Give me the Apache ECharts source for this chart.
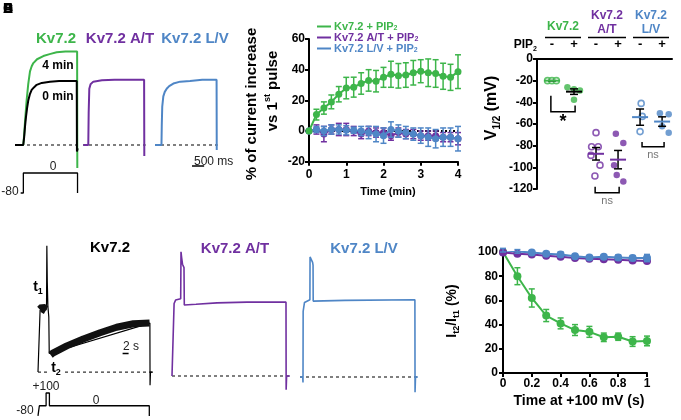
<!DOCTYPE html>
<html>
<head>
<meta charset="utf-8">
<title>Kv7.2 PIP2 figure</title>
<script src="https://cdn.jsdelivr.net/npm/echarts@6/dist/echarts.min.js"></script>
<style>
  html, body { margin: 0; padding: 0; background: #fff; }
  #chart { width: 681px; height: 420px; }
</style>
</head>
<body>
<div id="chart"></div>
<script>
const GREEN = '#3db54a';
const PURPLE = '#7030a0';
const BLUE = '#4f86c6';
const FONT = '"Liberation Sans", Arial, sans-serif';

// A: current traces, [time ms, current normalised to 0 min plateau]
const traceA0min = [[0,0],[262,0],[290,0.12],[320,0.3],[349,0.44],[385,0.58],[423,0.70],[470,0.79],[529,0.86],[600,0.9],[688,0.94],[850,0.97],[1111,0.99],[1400,1.0],[1700,1.0],[1960,1.0],[1966,-0.1],[1990,-0.05]];
const traceA4min = [[0,0],[262,0],[290,0.15],[320,0.38],[370,0.70],[420,0.95],[476,1.15],[530,1.23],[582,1.28],[700,1.34],[899,1.39],[1100,1.42],[1323,1.45],[1600,1.46],[1972,1.46],[1978,-0.36]];
const traceAat = [[10,0],[168,0],[180,0.5],[200,0.88],[240,0.95],[327,0.99],[600,1.01],[1000,1.02],[1500,1.02],[1940,1.02],[1946,-0.17]];
const traceAlv = [[0,0],[205,0],[215,0.3],[230,0.6],[264,0.76],[310,0.83],[371,0.88],[450,0.92],[582,0.96],[800,0.99],[1111,1.0],[1500,1.02],[1955,1.02],[1960,-0.08]];
const protocolA = [[180,-80],[265,-80],[265,0],[1985,0],[1985,-80]];
const scaleBarA = [[1175,-0.33],[1560,-0.33]]; // 500 ms

// B: % current increase vs 1st pulse
const timeB = [0,0.2,0.4,0.6,0.8,1,1.2,1.4,1.6,1.8,2,2.2,2.4,2.6,2.8,3,3.2,3.4,3.6,3.8,4];
const kv72B = [0,10.7,15,19,24,28,28.6,31,33,32.5,35,37,36,36.5,38,39,38,37.5,35.7,35,38.7];
const kv72BErr = [0,3.5,4,4.5,5,7,6.5,7,7,7,6.5,8.5,8,8,8,7.5,9,9,8.5,8.5,11];
const atB = [0,1,-2,1,1,1,0,-2,0,-1,-1,-3,-1,-2,-2,-3,-3,-3,-4,-4,-5];
const atBErr = [0,3,5,3,4,4,3,3,3,3,3,3,3,3,3,3,3,3,3,3,4];
const lvB = [0,1,0,1,1,0.5,0.5,0,-1,-2,-3,1,0,-1,-2,-3,-4,-5,-4,-4,-5];
const lvBErr = [0,2,3,3,3,3,2,3,4,5,5,5,4,4,4,5,6,6,6,6,8];
const namesB = ['Kv7.2 + PIP2', 'Kv7.2 A/T + PIP2', 'Kv7.2 L/V + PIP2'];

// C: V1/2 (mV), individual cells, jitter in group units
const signsC = ['-', '+', '-', '+', '-', '+'];
const cKv72Ctrl = [-20,-20,-20];          const cKv72CtrlJit = [-0.2,0,0.2];
const cKv72Pip = [-26,-28,-29,-37.5];     const cKv72PipJit = [-0.3,0,0.27,0];
const cAtCtrl = [-68,-81,-81,-89,-98,-108]; const cAtCtrlJit = [0,-0.2,0.1,-0.23,0.18,-0.05];
const cAtPip = [-69,-77.5,-98,-107,-113]; const cAtPipJit = [-0.1,0.24,-0.18,-0.06,0.24];
const cLvCtrl = [-41,-53,-67];            const cLvCtrlJit = [0.05,0.1,0];
const cLvPip = [-50,-51,-62,-68];         const cLvPipJit = [-0.1,0.3,0,0.3];
// brackets: [x1, x2, base, leftTop, rightTop, labelY]
const bracketsC = [[0.95,2.05,-48.6,-34,-43,-58],[2.96,4.05,-123.4,-118,-118,-131],[5.09,6.09,-81,-76.6,-76.6,-88.6]];
const bracketLabels = ['*', 'ns', 'ns'];

// D: long pulse traces, [time s, current]
const traceDkv72 = [[0,0],[0.6,0],[0.7,0.9],[2.7,0.9],[2.85,1.0],[2.95,1.83],[3.1,1.3],[3.3,0.95],[3.6,0.8],[3.75,0.27],[4.0,0.25],[37.3,0.71],[37.35,-0.19],[37.5,0],[38.3,0]];
const noiseDpre = [[0.75,0.9],[1.5,0.93],[2.7,0.9]];
const noiseDslow = [[4.2,0.25],[5.1,0.28],[9.6,0.38],[15.1,0.48],[20.7,0.57],[26.2,0.65],[31.8,0.70],[37.2,0.71]];
const protocolD = [[0,-80],[0.45,-80],[0.45,0],[2.7,0],[2.7,100],[3.8,100],[3.8,0],[37.1,0],[37.1,-80],[37.3,-80]];
const traceDat = [[0,0],[0.6,0],[0.7,1.05],[1.2,1.1],[2.9,1.12],[3.0,1.8],[3.2,1.72],[3.5,1.62],[4.0,1.57],[4.1,1.03],[8,1.04],[15,1.06],[25,1.07],[38,1.07],[38.05,-0.2],[38.2,0],[39.3,0]];
const traceDlv = [[0,0],[0.9,0],[1.0,-0.08],[1.05,0.95],[1.5,1.08],[3.3,1.12],[3.35,1.74],[4.2,1.66],[4.35,1.62],[4.4,1.10],[15,1.11],[38.3,1.12],[38.35,-0.22],[38.5,0],[39.3,0]];
const scaleBarD = [[28.2,0.27],[30.2,0.27]]; // 2 s

// E: It2/It1 (%)
const timeE = [0,0.1,0.2,0.3,0.4,0.5,0.6,0.7,0.8,0.9,1];
const kv72E = [100,80,62,47.5,41,35.5,34,29.5,30,26,26.5];
const kv72EErr = [0,7,7.5,5,4.5,4.5,4.5,3.5,3,4,4];
const atE = [99.5,98.5,98,97,96,95,94.5,94,93.5,93,92.5];
const atEErr = [1,1,1,1,1,1,1,1,1,1,1];
const lvE = [101.5,100.5,99.5,98.5,98,96.5,95.5,96,95.5,95,95];
const lvEErr = [1.5,1.5,1.5,1.5,2,1.5,1.5,1.5,2,2,3];

const zip = (xs, ys) => xs.map((x, i) => [x, ys[i]]);
const errRows = (xs, ys, es) => xs.map((x, i) => [x, ys[i] - es[i], ys[i] + es[i]]);
const jitter = (pos, vals, jit) => vals.map((v, i) => [pos + jit[i], v]);
const mean = a => a.reduce((s, v) => s + v, 0) / a.length;
const sem = a => {
  const m = mean(a);
  return Math.sqrt(a.reduce((s, v) => s + (v - m) * (v - m), 0) / (a.length - 1)) / Math.sqrt(a.length);
};

const groupsC = [cKv72Ctrl, cKv72Pip, cAtCtrl, cAtPip, cLvCtrl, cLvPip];
const meanRows = groupsC.map((g, i) => [i + 1, mean(g), sem(g)]);
const meanColors = [GREEN, '#000', PURPLE, PURPLE, BLUE, BLUE];

function errorBar(capHalf, width) {
  return function (params, api) {
    const x = api.value(0);
    const lo = api.coord([x, api.value(1)]);
    const hi = api.coord([x, api.value(2)]);
    const st = { stroke: api.visual('color'), lineWidth: width };
    return { type: 'group', children: [
      { type: 'line', shape: { x1: lo[0], y1: lo[1], x2: hi[0], y2: hi[1] }, style: st },
      { type: 'line', shape: { x1: lo[0] - capHalf, y1: lo[1], x2: lo[0] + capHalf, y2: lo[1] }, style: st },
      { type: 'line', shape: { x1: hi[0] - capHalf, y1: hi[1], x2: hi[0] + capHalf, y2: hi[1] }, style: st }
    ] };
  };
}

function meanBar(params, api) {
  const x = api.value(0), m = api.value(1), s = api.value(2);
  const c = api.coord([x, m]);
  const lo = api.coord([x, m - s]);
  const hi = api.coord([x, m + s]);
  const eb = { stroke: '#000', lineWidth: 1.5 };
  return { type: 'group', children: [
    { type: 'line', shape: { x1: lo[0], y1: lo[1], x2: hi[0], y2: hi[1] }, style: eb },
    { type: 'line', shape: { x1: lo[0] - 4, y1: lo[1], x2: lo[0] + 4, y2: lo[1] }, style: eb },
    { type: 'line', shape: { x1: hi[0] - 4, y1: hi[1], x2: hi[0] + 4, y2: hi[1] }, style: eb },
    { type: 'line', shape: { x1: c[0] - 8, y1: c[1], x2: c[0] + 8, y2: c[1] },
      style: { stroke: meanColors[params.dataIndex], lineWidth: 2 } }
  ] };
}

function bracket(params, api) {
  const a = api.coord([api.value(0), api.value(2)]);
  const b = api.coord([api.value(1), api.value(2)]);
  const la = api.coord([api.value(0), api.value(3)]);
  const rb = api.coord([api.value(1), api.value(4)]);
  const t = api.coord([(api.value(0) + api.value(1)) / 2, api.value(5)]);
  const lbl = bracketLabels[params.dataIndex];
  const star = lbl === '*';
  return { type: 'group', children: [
    { type: 'polyline', shape: { points: [la, a, b, rb] }, style: { stroke: '#000', lineWidth: 1.5, fill: null } },
    { type: 'text', x: t[0], y: t[1], style: { text: lbl, fill: star ? '#000' : '#777',
      fontSize: star ? 18 : 11, fontWeight: star ? 'bold' : 'normal', fontFamily: FONT,
      align: 'center', verticalAlign: 'middle' } }
  ] };
}

function richFor(size) {
  return {
    sub: { fontSize: Math.round(size * 0.62), fontWeight: 'bold', fontFamily: FONT, verticalAlign: 'bottom', lineHeight: size * 1.3 },
    sup: { fontSize: Math.round(size * 0.62), fontWeight: 'bold', fontFamily: FONT, verticalAlign: 'top', lineHeight: size * 1.3 }
  };
}

function label(x, y, text, size, color, opts) {
  opts = opts || {};
  return {
    type: 'text', x: x, y: y, rotation: opts.rotation || 0, silent: true,
    style: {
      text: text, fill: color || '#000', fontSize: size, lineHeight: size * 1.3,
      fontWeight: opts.weight || 'bold', fontFamily: FONT,
      align: opts.align || 'center', verticalAlign: 'middle', rich: richFor(size)
    }
  };
}

const axisBase = (extra) => Object.assign({
  axisLine: { show: true, onZero: false, lineStyle: { color: '#000', width: 2 } },
  axisTick: { show: true, length: 4, lineStyle: { color: '#000', width: 2 } },
  axisLabel: { color: '#000', fontSize: 12, fontWeight: 'bold', fontFamily: FONT, margin: 4 },
  splitLine: { show: false }
}, extra);

const hidden = (gridIndex, min, max) => ({ type: 'value', gridIndex, min, max, show: false });

function traceSeries(idx, data, color, width, extra) {
  return Object.assign({
    type: 'line', xAxisIndex: idx, yAxisIndex: idx, data: data, showSymbol: false,
    symbol: 'none', silent: true, lineStyle: { color: color, width: width }, z: 3
  }, extra);
}
const dashed = (idx, data) => traceSeries(idx, data, '#000', 1, { lineStyle: { color: '#000', width: 1, type: [3, 3] }, z: 2 });
const band = (idx, data, width) => traceSeries(idx, data, '#000', width, { lineStyle: { color: '#111', width: width, cap: 'butt', join: 'bevel' } });

const gridBase = { outerBoundsMode: 'none', containLabel: false };
const grids = [
  { left: 15, top: 42.6, width: 63, height: 128 },    // 0 A Kv7.2
  { left: 83, top: 42.6, width: 63, height: 128 },    // 1 A A/T
  { left: 155, top: 42.6, width: 63, height: 128 },   // 2 A L/V
  { left: 15, top: 170.5, width: 63, height: 25 },    // 3 A protocol
  { left: 309, top: 39, width: 149, height: 122.7 },  // 4 B
  { left: 537, top: 59, width: 135, height: 130 },    // 5 C
  { left: 38, top: 241, width: 120, height: 158.7 },  // 6 D Kv7.2
  { left: 38, top: 391.7, width: 120, height: 26.8 }, // 7 D protocol
  { left: 172, top: 244.9, width: 120, height: 158.7 },// 8 D A/T
  { left: 300, top: 245.9, width: 120, height: 158.7 },// 9 D L/V
  { left: 503, top: 252, width: 144, height: 121 }    // 10 E
].map(g => Object.assign({}, gridBase, g));

const xAxes = [
  hidden(0, 0, 2000), hidden(1, 0, 2000), hidden(2, 0, 2000), hidden(3, 0, 2000),
  axisBase({ type: 'value', gridIndex: 4, min: 0, max: 4, interval: 1,
    axisLabel: { color: '#000', fontSize: 12, fontWeight: 'bold', fontFamily: FONT, margin: 7 } }),
  axisBase({ type: 'value', gridIndex: 5, min: 0.32, max: 6.45, position: 'top',
    axisTick: { show: false },
    axisLabel: { color: '#000', fontSize: 13, fontWeight: 'bold', fontFamily: FONT, margin: 8,
      customValues: [1, 2, 3, 4, 5, 6], formatter: v => signsC[Math.round(v) - 1] } }),
  hidden(6, 0, 40), hidden(7, 0, 40), hidden(8, 0, 40), hidden(9, 0, 40),
  axisBase({ type: 'value', gridIndex: 10, min: 0, max: 1, interval: 0.2,
    axisLabel: { color: '#000', fontSize: 12, fontWeight: 'bold', fontFamily: FONT, margin: 5 } })
];
const yAxes = [
  hidden(0, -0.4, 1.6), hidden(1, -0.4, 1.6), hidden(2, -0.4, 1.6), hidden(3, -90, 10),
  axisBase({ type: 'value', gridIndex: 4, min: -20, max: 60, interval: 20 }),
  axisBase({ type: 'value', gridIndex: 5, min: -120, max: 0, interval: 20 }),
  hidden(6, -0.4, 1.9), hidden(7, -100, 110), hidden(8, -0.4, 1.9), hidden(9, -0.4, 1.9),
  axisBase({ type: 'value', gridIndex: 10, min: 0, max: 100, interval: 20,
    axisLabel: { color: '#000', fontSize: 12, fontWeight: 'bold', fontFamily: FONT, margin: 5 } })
];

const lineB = (name, ys, color, z) => ({
  name: name, type: 'line', xAxisIndex: 4, yAxisIndex: 4, data: zip(timeB, ys),
  symbol: 'circle', symbolSize: 7, itemStyle: { color: color }, lineStyle: { color: color, width: 2 }, z: z
});
const errB = (ys, es, color, z) => ({
  type: 'custom', xAxisIndex: 4, yAxisIndex: 4, data: errRows(timeB, ys, es),
  renderItem: errorBar(3, 1.5), itemStyle: { color: color }, z: z, silent: true
});
const lineE = (ys, color, z) => ({
  type: 'line', xAxisIndex: 10, yAxisIndex: 10, data: zip(timeE, ys),
  symbol: 'circle', symbolSize: 8, itemStyle: { color: color }, lineStyle: { color: color, width: 2 }, z: z
});
const errE = (ys, es, color, z) => ({
  type: 'custom', xAxisIndex: 10, yAxisIndex: 10, data: errRows(timeE, ys, es),
  renderItem: errorBar(3, 1.5), itemStyle: { color: color }, z: z, silent: true
});
const dotsC = (pos, vals, jit, color, open) => ({
  type: 'scatter', xAxisIndex: 5, yAxisIndex: 5, data: jitter(pos, vals, jit),
  symbol: 'circle', symbolSize: open ? 6 : 6.5, z: 4,
  itemStyle: open ? { color: '#fff', borderColor: color, borderWidth: 1.6 } : { color: color }
});

const series = [
  // A traces
  dashed(0, [[0,0],[1990,0]]), dashed(1, [[0,0],[1990,0]]), dashed(2, [[0,0],[1990,0]]),
  traceSeries(0, traceA4min, GREEN, 2),
  traceSeries(0, traceA0min, '#000', 2, { z: 4 }),
  traceSeries(1, traceAat, PURPLE, 2),
  traceSeries(2, traceAlv, BLUE, 2),
  traceSeries(2, scaleBarA, '#000', 1.5),
  traceSeries(3, protocolA, '#000', 1.3),
  // B
  traceSeries(4, [[0,0],[4,0]], '#000', 2, { lineStyle: { color: '#000', width: 2, type: [2, 2] }, z: 1 }),
  errB(atB, atBErr, PURPLE, 2), lineB(namesB[1], atB, PURPLE, 3),
  errB(lvB, lvBErr, BLUE, 4), lineB(namesB[2], lvB, BLUE, 5),
  errB(kv72B, kv72BErr, GREEN, 6), lineB(namesB[0], kv72B, GREEN, 7),
  // C
  dotsC(1, cKv72Ctrl, cKv72CtrlJit, GREEN, true),
  dotsC(2, cKv72Pip, cKv72PipJit, GREEN, false),
  dotsC(3, cAtCtrl, cAtCtrlJit, PURPLE, true),
  dotsC(4, cAtPip, cAtPipJit, PURPLE, false),
  dotsC(5, cLvCtrl, cLvCtrlJit, BLUE, true),
  dotsC(6, cLvPip, cLvPipJit, BLUE, false),
  { type: 'custom', xAxisIndex: 5, yAxisIndex: 5, data: meanRows, renderItem: meanBar, z: 5, silent: true },
  { type: 'custom', xAxisIndex: 5, yAxisIndex: 5, data: bracketsC, renderItem: bracket, clip: false, z: 5, silent: true },
  // D traces
  dashed(6, [[0,0],[3.5,0]]), dashed(6, [[9,0],[38,0]]),
  dashed(8, [[0,0],[39.5,0]]), dashed(9, [[0,0],[39.5,0]]),
  traceSeries(6, traceDkv72, '#000', 1.2),
  band(6, noiseDpre, 9),
  band(6, noiseDslow, 7),
  traceSeries(6, scaleBarD, '#000', 1.5),
  traceSeries(7, protocolD, '#000', 1.3),
  traceSeries(8, traceDat, PURPLE, 1.6),
  traceSeries(9, traceDlv, BLUE, 1.6),
  // E
  errE(kv72E, kv72EErr, GREEN, 2), lineE(kv72E, GREEN, 3),
  errE(atE, atEErr, PURPLE, 4), lineE(atE, PURPLE, 5),
  errE(lvE, lvEErr, BLUE, 6), lineE(lvE, BLUE, 7)
];

const graphics = [
  // panel letters (overprinted)
  label(8, 9, 'A', 14), label(8, 9, 'B', 14), label(8, 9, 'C', 14), label(8, 9, 'D', 14), label(8, 9, 'E', 14),
  // A
  label(56, 39, 'Kv7.2', 15, GREEN), label(120, 39, 'Kv7.2 A/T', 15, PURPLE), label(195, 39, 'Kv7.2 L/V', 15, BLUE),
  label(58, 66, '4 min', 12), label(58, 97, '0 min', 12),
  label(194, 162, '500 ms', 12, '#222', { align: 'left', weight: 'normal' }),
  label(10, 192, '-80', 12, '#222', { weight: 'normal' }), label(53, 167, '0', 12, '#222', { weight: 'normal' }),
  // B
  label(252, 104, '% of current increase', 15, '#000', { rotation: Math.PI / 2 }),
  label(273, 91, 'vs 1{sup|st} pulse', 15, '#000', { rotation: Math.PI / 2 }),
  label(388, 192, 'Time (min)', 11),
  // C
  label(563, 27, 'Kv7.2', 12, GREEN),
  label(607, 16, 'Kv7.2', 12, PURPLE), label(607, 30, 'A/T', 12, PURPLE),
  label(651, 16, 'Kv7.2', 12, BLUE), label(651, 30, 'L/V', 12, BLUE),
  { type: 'line', shape: { x1: 545, y1: 37.5, x2: 581, y2: 37.5 }, style: { stroke: '#000', lineWidth: 1.5 } },
  { type: 'line', shape: { x1: 588, y1: 37.5, x2: 626, y2: 37.5 }, style: { stroke: '#000', lineWidth: 1.5 } },
  { type: 'line', shape: { x1: 633, y1: 37.5, x2: 669, y2: 37.5 }, style: { stroke: '#000', lineWidth: 1.5 } },
  label(537, 45, 'PIP{sub|2}', 12, '#000', { align: 'right' }),
  label(492, 108, 'V{sub|1/2} (mV)', 16, '#000', { rotation: Math.PI / 2 }),
  // D
  label(110, 248, 'Kv7.2', 15), label(235, 249, 'Kv7.2 A/T', 15, PURPLE), label(364, 249, 'Kv7.2 L/V', 15, BLUE),
  label(38, 287, 't{sub|1}', 14), label(56, 368, 't{sub|2}', 14),
  label(123, 347, '2 s', 12, '#222', { align: 'left', weight: 'normal' }),
  label(46, 387, '+100', 12, '#222', { weight: 'normal' }),
  label(25, 411, '-80', 12, '#222', { weight: 'normal' }),
  label(96, 401, '0', 12, '#222', { weight: 'normal' }),
  // E
  label(452, 311, 'I{sub|t2}/I{sub|t1} (%)', 14, '#000', { rotation: Math.PI / 2 }),
  label(579, 401, 'Time at +100 mV (s)', 14)
];

const chart = echarts.init(document.getElementById('chart'), null, { renderer: 'canvas' });
chart.setOption({
  animation: false,
  backgroundColor: '#fff',
  textStyle: { fontFamily: FONT },
  legend: {
    orient: 'vertical', left: 312, top: 16, itemGap: 0, itemWidth: 14, itemHeight: 2, icon: 'rect',
    data: [
      { name: namesB[0], textStyle: { color: GREEN } },
      { name: namesB[1], textStyle: { color: PURPLE } },
      { name: namesB[2], textStyle: { color: BLUE } }
    ],
    formatter: name => name.replace('PIP2', 'PIP{sub|2}'),
    textStyle: { fontSize: 11, fontWeight: 'bold', fontFamily: FONT, lineHeight: 11, padding: [0, 0, 0, -2],
      rich: { sub: { fontSize: 7, fontWeight: 'bold', fontFamily: FONT, verticalAlign: 'bottom', lineHeight: 11 } } }
  },
  grid: grids,
  xAxis: xAxes,
  yAxis: yAxes,
  series: series,
  graphic: graphics
});
</script>
</body>
</html>
